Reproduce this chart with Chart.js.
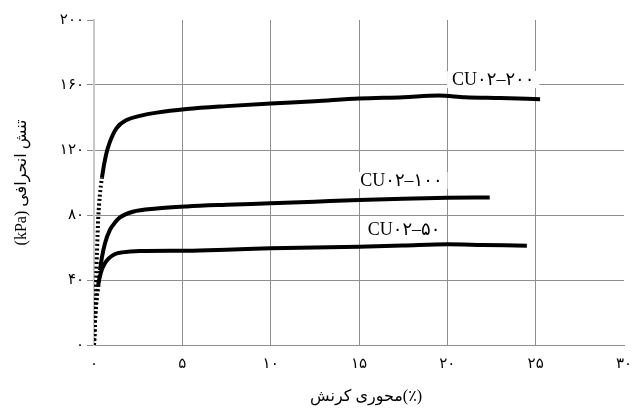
<!DOCTYPE html>
<html lang="fa">
<head>
<meta charset="UTF-8">
<title>CU02</title>
<script src="https://cdn.jsdelivr.net/npm/chart.js"></script>
<style>
    body { margin: 0; background: #fff; }
    canvas { display: block; }
</style>
</head>
<body>
<canvas id="myChart" width="643" height="412"></canvas>
<script>
    // curve names (as written on the chart)
    const seriesNames = ['CU۰۲–۲۰۰', 'CU۰۲–۱۰۰', 'CU۰۲–۵۰'];

    // CU02-200
    const strain200 = [0, 0.06, 0.12, 0.17, 0.24, 0.33, 0.45, 0.68, 0.9, 1.28, 1.85, 2.6, 3.55, 5.25, 7.5, 10, 12.5, 15, 17.5, 19.5, 21, 23, 25.25];
    const stress200 = [0, 20, 40, 58, 78, 92, 103, 117, 125, 133.5, 138.5, 141, 143, 145.2, 147, 148.6, 150, 151.7, 152.5, 153.5, 152.5, 152, 151.3];

    // CU02-100
    const strain100 = [0, 0.06, 0.14, 0.24, 0.34, 0.45, 0.62, 0.9, 1.2, 1.47, 2.2, 3.55, 5.25, 7.5, 10, 12.5, 15, 17.5, 20, 22.4];
    const stress100 = [0, 16, 28, 36, 46, 54, 62.5, 70.8, 75.5, 78.5, 82, 84, 85.3, 86.3, 87.2, 88.2, 89.2, 90, 90.6, 90.8];

    // CU02-50
    const strain50 = [0, 0.06, 0.14, 0.24, 0.4, 0.6, 0.85, 1.2, 1.6, 2.6, 5.25, 7.5, 10, 12.5, 15, 17.5, 20, 22, 24.5];
    const stress50 = [0, 15, 27, 37, 45, 50, 53.5, 56, 57, 57.8, 58, 58.6, 59.5, 60, 60.5, 61.2, 62, 61.6, 61.1];

    const xTicks = [0, 5, 10, 15, 20, 25, 30];
    const yTicks = [0, 40, 80, 120, 160, 200];

    // x title words, in the left-to-right order they appear
    const xTitleWords = ['کرنش', ' ', 'محوری', '(٪)'];
    const yTitle = '(kPa) تنش انحرافی';

    const faDigits = '۰۱۲۳۴۵۶۷۸۹';
    function fa(v) {
        return String(v).replace(/\d/g, d => faDigits[d]);
    }

    function toPoints(xs, ys) {
        return xs.map((x, i) => ({x: x, y: ys[i]}));
    }

    const gridGray = '#8e8e8e';
    const fontStack = '"Liberation Serif", "DejaVu Sans"';
    const tickFont = {family: fontStack, size: 15};
    const titleFont = {family: fontStack, size: 16};

    // steep start of the test is plotted as sparse dots
    function steepDash(ctx) {
        const dx = ctx.p1.parsed.x - ctx.p0.parsed.x;
        const dy = ctx.p1.parsed.y - ctx.p0.parsed.y;
        return dy / dx > 80 ? [2, 2.5] : undefined;
    }

    function lineSet(xs, ys) {
        return {
            data: toPoints(xs, ys),
            showLine: true,
            borderColor: '#000',
            backgroundColor: '#000',
            borderWidth: 4,
            pointRadius: 0,
            cubicInterpolationMode: 'monotone',
            segment: {borderDash: steepDash}
        };
    }

    // labels next to each curve, with a white box over the grid
    const curveLabels = {
        id: 'curveLabels',
        beforeDatasetsDraw(chart) {
            const c = chart.ctx;
            const xs = chart.scales.x, ys = chart.scales.y;
            const spots = [[22.6, 163], [17.4, 101], [17.55, 70.8]];
            c.save();
            c.direction = 'ltr';
            c.font = '18px ' + fontStack;
            c.textAlign = 'center';
            c.textBaseline = 'middle';
            seriesNames.forEach((name, i) => {
                const px = xs.getPixelForValue(spots[i][0]);
                const py = ys.getPixelForValue(spots[i][1]);
                const w = c.measureText(name).width;
                c.fillStyle = '#fff';
                c.fillRect(px - w / 2 - 5, py - 9, w + 10, 17);
                c.fillStyle = '#000';
                c.fillText(name, px, py);
            });
            c.restore();
        },
        afterDraw(chart) {
            // x axis title, word by word so the order stays as in the original
            const c = chart.ctx;
            c.save();
            c.direction = 'ltr';
            c.font = '16px ' + fontStack;
            c.fillStyle = '#000';
            c.textAlign = 'left';
            c.textBaseline = 'middle';
            const widths = xTitleWords.map(w => c.measureText(w).width);
            const total = widths.reduce((a, b) => a + b, 0);
            let x = chart.scales.x.getPixelForValue(15.4) - total / 2;
            xTitleWords.forEach((w, i) => {
                c.fillText(w, x, 397);
                x += widths[i];
            });
            c.restore();
        }
    };

    const ctx = document.getElementById('myChart').getContext('2d');
    const stressChart = new Chart(ctx, {
        type: 'scatter',
        data: {
            datasets: [
                lineSet(strain200, stress200),
                lineSet(strain100, stress100),
                lineSet(strain50, stress50)
            ]
        },
        options: {
            responsive: false,
            animation: false,
            devicePixelRatio: 1,
            layout: {padding: {top: 20, right: 19, left: 0, bottom: 0}},
            plugins: {
                legend: {display: false},
                tooltip: {enabled: false}
            },
            scales: {
                x: {
                    type: 'linear',
                    min: 0,
                    max: 30,
                    afterBuildTicks: s => { s.ticks = xTicks.map(v => ({value: v})); },
                    afterFit: s => { s.height = 67; },
                    ticks: {
                        callback: v => fa(v),
                        color: '#000',
                        font: tickFont,
                        padding: 10,
                        maxRotation: 0
                    },
                    grid: {
                        color: c => (c.tick && (c.tick.value === 30 || c.tick.value === 0)) ? 'rgba(0,0,0,0)' : gridGray,
                        drawTicks: false
                    },
                    border: {color: gridGray, width: 1}
                },
                y: {
                    min: 0,
                    max: 200,
                    afterBuildTicks: s => { s.ticks = yTicks.map(v => ({value: v})); },
                    afterFit: s => { s.width = 94; },
                    ticks: {
                        callback: v => fa(v),
                        color: '#000',
                        font: tickFont,
                        padding: 3
                    },
                    grid: {
                        color: c => (c.tick && c.tick.value === 200) ? 'rgba(0,0,0,0)' : gridGray,
                        tickColor: gridGray,
                        tickLength: 7
                    },
                    border: {color: '#c8c8c8', width: 2},
                    title: {
                        display: true,
                        text: yTitle,
                        color: '#000',
                        font: titleFont,
                        padding: {top: 12, bottom: 0}
                    }
                }
            }
        },
        plugins: [curveLabels]
    });
</script>
</body>
</html>
